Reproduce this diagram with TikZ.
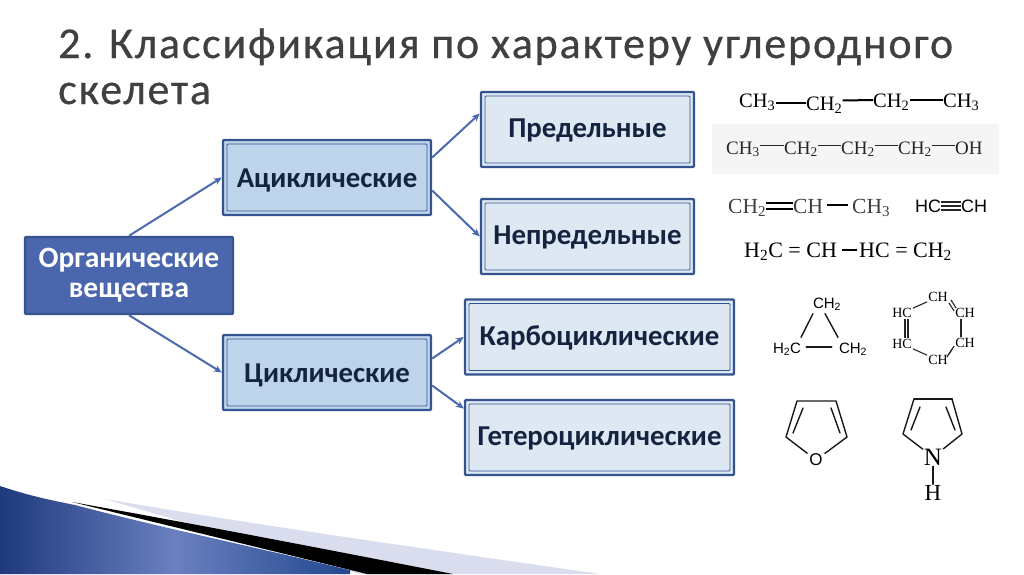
\documentclass[tikz,border=0pt]{standalone}
\usepackage{fontspec}
\setmainfont{Liberation Serif}
\newfontfamily\titlefont[LetterSpace=4.1,FakeBold=0.5]{Carlito}
\newfontfamily\boxfont{Carlito}
\newfontfamily\chemsans{Liberation Sans}
\usetikzlibrary{arrows.meta}
\definecolor{frameblue}{HTML}{35538F}
\definecolor{arrowblue}{HTML}{4A69AE}
\definecolor{orgfill}{HTML}{4A67AD}
\definecolor{midfill}{HTML}{BDD4EB}
\definecolor{leaffill}{HTML}{DDE8F3}
\definecolor{boxtext}{HTML}{14233F}
\definecolor{titlegrey}{HTML}{404040}
\definecolor{wedgedark}{HTML}{1E3A7C}
\definecolor{wedgelight}{HTML}{6A80C0}
\definecolor{wedgeend}{HTML}{23478F}
\definecolor{wedgepale}{HTML}{DADDEE}
\tikzset{
  x=1pt,y=-1pt,
  boxbase/.style={rectangle,rounded corners=1pt,draw=frameblue,line width=2.4pt,
     font=\boxfont\fontsize{28.8}{32}\selectfont\bfseries,align=center,text=boxtext,inner sep=0pt},
  inset/.style={text height=22pt,text depth=2pt,path picture={\draw[frameblue,line width=.9pt]
     ([xshift=4pt,yshift=4pt]path picture bounding box.south west) rectangle
     ([xshift=-4pt,yshift=-4pt]path picture bounding box.north east);}},
  orgbox/.style={boxbase,fill=orgfill,text=white,minimum width=208pt,minimum height=77pt,
     font=\boxfont\fontsize{29.5}{32}\selectfont\bfseries},
  midbox/.style={boxbase,inset,fill=midfill,minimum width=208pt,minimum height=75pt},
  leafbox/.style={boxbase,inset,text height=18pt,fill=leaffill,minimum height=75pt},
  link/.style={draw=arrowblue,line width=2pt,-{Stealth[length=8pt,width=7pt]}},
  atom/.style={inner sep=0pt,anchor=base west,text height=13pt,text depth=4pt,font=\fontsize{20.5}{22}\selectfont,text=black},
  atomsm/.style={atom,font=\fontsize{19}{20}\selectfont,text=black!85},
  atomgrey/.style={atom,font=\fontsize{21.5}{22}\selectfont,text=black!75},
  atomwide/.style={atom,font=\fontsize{22}{24}\selectfont},
  atomsans/.style={atom,font=\chemsans\fontsize{18}{20}\selectfont},
  cyc/.style={inner sep=1pt,font=\chemsans\fontsize{15}{17}\selectfont},
  hex/.style={inner sep=1pt,font=\fontsize{14}{15}\selectfont},
  bond/.style={draw=black,line width=2pt},
  thinbond/.style={draw=black!85,line width=1.1pt},
  ring/.style={draw=black!90,line width=1.4pt,line cap=round,line join=round},
  titletext/.style={inner sep=0pt,anchor=base west,text=titlegrey,font=\titlefont\fontsize{44}{48}\selectfont}
}
\newcommand{\sbs}[1]{\textsubscript{#1}}
\begin{document}
\begin{tikzpicture}
\useasboundingbox (0,0) rectangle (1024,574);
\fill[white] (0,0) rectangle (1024,574);

% corner decoration
\fill[wedgepale] (105,499) .. controls (250,524) and (420,548) .. (600,574) -- (360,574) -- cycle;
\fill[black] (72,502) .. controls (200,525) and (330,550) .. (453,574) -- (367,574) -- cycle;
\begin{scope}
  \clip (0,486) .. controls (30,496) and (50,500) .. (75,505) .. controls (170,530) and (270,550) .. (365,574) -- (0,574) -- cycle;
  \shade[left color=wedgedark,right color=wedgeend,middle color=wedgelight] (0,480) rectangle (350,574);
\end{scope}

% title
\node[titletext] (title1) at (58,58) {2. Классификация по характеру углеродного};
\node[titletext] (title2) at (58,104) {скелета};

% boxes
\node[orgbox] (org) at (129,275.5) {Органические\\[-2pt]вещества};
\node[midbox] (acy) at (327,177.5) {Ациклические};
\node[midbox] (cyc) at (327,372.5) {Циклические};
\node[leafbox,minimum width=213pt] (pred) at (587.5,129.5) {Предельные};
\node[leafbox,minimum width=213pt] (nepred) at (587.5,236.5) {Непредельные};
\node[leafbox,minimum width=269pt] (karbo) at (599.5,337) {Карбоциклические};
\node[leafbox,minimum width=269pt] (getero) at (599.5,437.5) {Гетероциклические};

% links
\draw[link] (org.north) -- (acy.west);
\draw[link] (org.south) -- (cyc.west);
\draw[link] ([yshift=20pt]acy.east) -- ([yshift=16pt]pred.west);
\draw[link] ([yshift=-13pt]acy.east) -- (nepred.west);
\draw[link] ([yshift=14pt]cyc.east) -- (karbo.west);
\draw[link] ([yshift=-13pt]cyc.east) -- ([yshift=29pt]getero.west);

% chain 1
\node[atom] (a1) at (739,107) {CH\sbs{3}};
\node[atom] (a2) at (806,110) {CH\sbs{2}};
\node[atom] (a3) at (873,107) {CH\sbs{2}};
\node[atom] (a4) at (943,107) {CH\sbs{3}};
\draw[bond] ([yshift=-.5pt]a1.east) -- ([yshift=2.5pt]a2.west);
\draw[bond] ([yshift=5pt]a2.east) -- ([yshift=2.5pt]a3.west);
\draw[bond] ([yshift=2.5pt]a3.east) -- ([yshift=2.5pt]a4.west);

% chain 2
\fill[black!4] (712,124) rectangle (999,174);
\node[atomsm] (b1) at (726,154) {CH\sbs{3}};
\node[atomsm] (b2) at (784,154) {CH\sbs{2}};
\node[atomsm] (b3) at (841,154) {CH\sbs{2}};
\node[atomsm] (b4) at (898,154) {CH\sbs{2}};
\node[atomsm] (b5) at (955,154) {OH};
\draw[thinbond] ([yshift=4pt]b1.east) -- ([yshift=4pt]b2.west);
\draw[thinbond] ([yshift=4pt]b2.east) -- ([yshift=4pt]b3.west);
\draw[thinbond] ([yshift=4pt]b3.east) -- ([yshift=4pt]b4.west);
\draw[thinbond] ([yshift=4pt]b4.east) -- ([yshift=4pt]b5.west);

% chain 3
\node[atomgrey] (c1) at (728,213) {CH\sbs{2}};
\node[atomgrey] (c2) at (793,213) {CH};
\node[atomgrey] (c3) at (852,213) {CH\sbs{3}};
\draw[bond] ([yshift=5.5pt]c1.east) -- ([yshift=5.5pt]c2.west);
\draw[bond] ([yshift=-.5pt]c1.east) -- ([yshift=-.5pt]c2.west);
\draw[bond] ([xshift=4pt,yshift=3.5pt]c2.east) -- ([xshift=-4pt,yshift=3.5pt]c3.west);

% acetylene
\node[atomsans] (d1) at (915,212) {HC};
\node[atomsans] (d2) at (961,212) {CH};
\draw[thinbond] ([yshift=1.5pt]d1.east) -- ([yshift=1.5pt]d2.west);
\draw[thinbond] ([yshift=5.5pt]d1.east) -- ([yshift=5.5pt]d2.west);
\draw[thinbond] ([yshift=-2.5pt]d1.east) -- ([yshift=-2.5pt]d2.west);

% chain 4
\node[atomwide] (e1) at (744,257) {H\sbs{2}C = CH};
\node[atomwide] (e2) at (859,257) {HC = CH\sbs{2}};
\draw[bond] ([xshift=5pt,yshift=2.5pt]e1.east) -- ([xshift=-2pt,yshift=2.5pt]e2.west);

% cyclopropane
\node[cyc] (p1) at (827,304) {CH\sbs{2}};
\node[cyc] (p2) at (787,349) {H\sbs{2}C};
\node[cyc] (p3) at (853,349) {CH\sbs{2}};
\draw[ring] ([xshift=-14pt,yshift=-2pt]p1.south) -- ([xshift=14pt,yshift=4pt]p2.north);
\draw[ring] ([xshift=-2pt,yshift=-2pt]p1.south) -- ([xshift=-15pt,yshift=4pt]p3.north);
\draw[ring] ([xshift=4pt,yshift=2pt]p2.east) -- ([xshift=-6pt,yshift=2pt]p3.west);

% cyclohexatriene
\node[hex] (h1) at (938,297) {CH};
\node[hex] (h2) at (965,313) {CH};
\node[hex] (h3) at (965,343) {CH};
\node[hex] (h4) at (938,360) {CH};
\node[hex] (h5) at (902,344) {HC};
\node[hex] (h6) at (902,313) {HC};
\draw[thinbond] (h6) -- (h1);
\draw[thinbond] ([xshift=-4pt]h2.south) -- ([xshift=-4pt]h3.north);
\draw[thinbond] (h4) -- (h5);
\draw[thinbond] (h1.south east) -- ([yshift=2pt]h2.west);
\draw[thinbond] ([xshift=2pt,yshift=3pt]h1.south east) -- ([xshift=2pt,yshift=5pt]h2.west);
\draw[thinbond] (h4.north east) -- ([yshift=-3pt]h3.west);
\draw[thinbond] ([xshift=-2pt,yshift=-3pt]h4.north east) -- ([xshift=-2pt,yshift=-6pt]h3.west);
\draw[thinbond] ([xshift=3pt]h6.south) -- ([xshift=3pt]h5.north);
\draw[thinbond] ([xshift=6pt]h6.south) -- ([xshift=6pt]h5.north);

% furan
\coordinate (f1) at (797,401); \coordinate (f2) at (836,401);
\coordinate (f3) at (847,437); \coordinate (f4) at (786,437);
\node[inner sep=2pt,font=\chemsans\fontsize{17}{19}\selectfont] (fo) at (816,460) {O};
\draw[ring] (fo) -- (f4) -- (f1) -- (f2) -- (f3) -- (fo);
\coordinate (f5) at (803,408); \coordinate (f6) at (793,433);
\coordinate (f7) at (831,408); \coordinate (f8) at (840,433);
\draw[ring] (f5) -- (f6);
\draw[ring] (f7) -- (f8);

% pyrrole
\coordinate (g1) at (914,399); \coordinate (g2) at (952,399);
\coordinate (g3) at (962,434); \coordinate (g4) at (903,434);
\node[inner sep=1pt,font=\fontsize{25}{27}\selectfont] (gn) at (933,457) {N};
\node[inner sep=1pt,font=\fontsize{23}{25}\selectfont] (gh) at (933,493) {H};
\draw[ring] (gn) -- (g4) -- (g1);
\draw[ring,line width=2pt] (g1) -- (g2);
\draw[ring] (g2) -- (g3) -- (gn);
\draw[ring] (gn) -- (gh);
\coordinate (g5) at (920,407); \coordinate (g6) at (911,430);
\coordinate (g7) at (946,407); \coordinate (g8) at (955,430);
\draw[ring] (g5) -- (g6);
\draw[ring] (g7) -- (g8);
\end{tikzpicture}
\end{document}
